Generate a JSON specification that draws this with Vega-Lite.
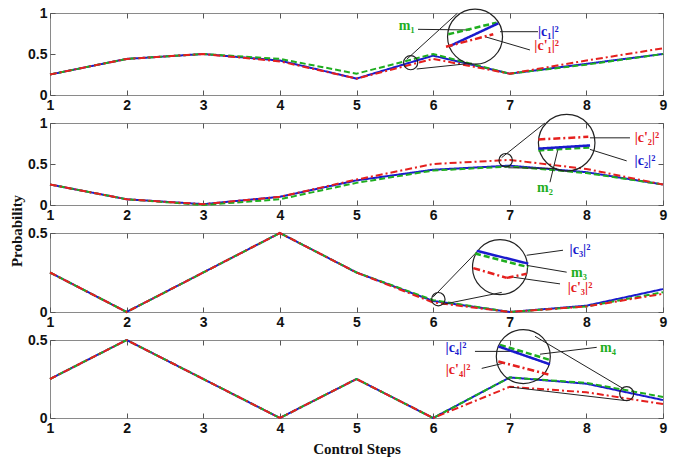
{
"$schema": "https://vega.github.io/schema/vega-lite/v6.json",
"padding": {"left": 10, "top": 5, "right": 5, "bottom": 5},
"title": {"text": "Probability", "orient": "left", "anchor": "middle", "font": "Liberation Serif", "fontSize": 15, "fontWeight": "bold", "color": "#111", "offset": 2},
"datasets": {
"lines": [
{"panel":1,"series":"c","step":1,"value":0.25},{"panel":1,"series":"c","step":2,"value":0.44},{"panel":1,"series":"c","step":3,"value":0.5},{"panel":1,"series":"c","step":4,"value":0.42},{"panel":1,"series":"c","step":5,"value":0.2},{"panel":1,"series":"c","step":6,"value":0.48},{"panel":1,"series":"c","step":7,"value":0.26},{"panel":1,"series":"c","step":8,"value":0.38},{"panel":1,"series":"c","step":9,"value":0.5},
{"panel":1,"series":"m","step":1,"value":0.25},{"panel":1,"series":"m","step":2,"value":0.44},{"panel":1,"series":"m","step":3,"value":0.5},{"panel":1,"series":"m","step":4,"value":0.44},{"panel":1,"series":"m","step":5,"value":0.26},{"panel":1,"series":"m","step":6,"value":0.5},{"panel":1,"series":"m","step":7,"value":0.26},{"panel":1,"series":"m","step":8,"value":0.37},{"panel":1,"series":"m","step":9,"value":0.5},
{"panel":1,"series":"cp","step":1,"value":0.25},{"panel":1,"series":"cp","step":2,"value":0.44},{"panel":1,"series":"cp","step":3,"value":0.5},{"panel":1,"series":"cp","step":4,"value":0.41},{"panel":1,"series":"cp","step":5,"value":0.2},{"panel":1,"series":"cp","step":6,"value":0.44},{"panel":1,"series":"cp","step":7,"value":0.26},{"panel":1,"series":"cp","step":8,"value":0.42},{"panel":1,"series":"cp","step":9,"value":0.57},
{"panel":2,"series":"c","step":1,"value":0.25},{"panel":2,"series":"c","step":2,"value":0.07},{"panel":2,"series":"c","step":3,"value":0.01},{"panel":2,"series":"c","step":4,"value":0.1},{"panel":2,"series":"c","step":5,"value":0.3},{"panel":2,"series":"c","step":6,"value":0.43},{"panel":2,"series":"c","step":7,"value":0.48},{"panel":2,"series":"c","step":8,"value":0.4},{"panel":2,"series":"c","step":9,"value":0.25},
{"panel":2,"series":"m","step":1,"value":0.25},{"panel":2,"series":"m","step":2,"value":0.07},{"panel":2,"series":"m","step":3,"value":0.0},{"panel":2,"series":"m","step":4,"value":0.07},{"panel":2,"series":"m","step":5,"value":0.27},{"panel":2,"series":"m","step":6,"value":0.42},{"panel":2,"series":"m","step":7,"value":0.47},{"panel":2,"series":"m","step":8,"value":0.39},{"panel":2,"series":"m","step":9,"value":0.25},
{"panel":2,"series":"cp","step":1,"value":0.25},{"panel":2,"series":"cp","step":2,"value":0.07},{"panel":2,"series":"cp","step":3,"value":0.01},{"panel":2,"series":"cp","step":4,"value":0.1},{"panel":2,"series":"cp","step":5,"value":0.31},{"panel":2,"series":"cp","step":6,"value":0.5},{"panel":2,"series":"cp","step":7,"value":0.55},{"panel":2,"series":"cp","step":8,"value":0.44},{"panel":2,"series":"cp","step":9,"value":0.25},
{"panel":3,"series":"c","step":1,"value":0.25},{"panel":3,"series":"c","step":2,"value":0.0},{"panel":3,"series":"c","step":3,"value":0.25},{"panel":3,"series":"c","step":4,"value":0.5},{"panel":3,"series":"c","step":5,"value":0.25},{"panel":3,"series":"c","step":6,"value":0.07},{"panel":3,"series":"c","step":7,"value":0.0},{"panel":3,"series":"c","step":8,"value":0.04},{"panel":3,"series":"c","step":9,"value":0.145},
{"panel":3,"series":"m","step":1,"value":0.25},{"panel":3,"series":"m","step":2,"value":0.0},{"panel":3,"series":"m","step":3,"value":0.25},{"panel":3,"series":"m","step":4,"value":0.5},{"panel":3,"series":"m","step":5,"value":0.25},{"panel":3,"series":"m","step":6,"value":0.075},{"panel":3,"series":"m","step":7,"value":0.0},{"panel":3,"series":"m","step":8,"value":0.035},{"panel":3,"series":"m","step":9,"value":0.125},
{"panel":3,"series":"cp","step":1,"value":0.25},{"panel":3,"series":"cp","step":2,"value":0.0},{"panel":3,"series":"cp","step":3,"value":0.25},{"panel":3,"series":"cp","step":4,"value":0.5},{"panel":3,"series":"cp","step":5,"value":0.25},{"panel":3,"series":"cp","step":6,"value":0.06},{"panel":3,"series":"cp","step":7,"value":0.0},{"panel":3,"series":"cp","step":8,"value":0.035},{"panel":3,"series":"cp","step":9,"value":0.115},
{"panel":4,"series":"c","step":1,"value":0.25},{"panel":4,"series":"c","step":2,"value":0.5},{"panel":4,"series":"c","step":3,"value":0.25},{"panel":4,"series":"c","step":4,"value":0.0},{"panel":4,"series":"c","step":5,"value":0.25},{"panel":4,"series":"c","step":6,"value":0.0},{"panel":4,"series":"c","step":7,"value":0.26},{"panel":4,"series":"c","step":8,"value":0.22},{"panel":4,"series":"c","step":9,"value":0.115},
{"panel":4,"series":"m","step":1,"value":0.25},{"panel":4,"series":"m","step":2,"value":0.5},{"panel":4,"series":"m","step":3,"value":0.25},{"panel":4,"series":"m","step":4,"value":0.0},{"panel":4,"series":"m","step":5,"value":0.25},{"panel":4,"series":"m","step":6,"value":0.0},{"panel":4,"series":"m","step":7,"value":0.26},{"panel":4,"series":"m","step":8,"value":0.225},{"panel":4,"series":"m","step":9,"value":0.135},
{"panel":4,"series":"cp","step":1,"value":0.25},{"panel":4,"series":"cp","step":2,"value":0.5},{"panel":4,"series":"cp","step":3,"value":0.25},{"panel":4,"series":"cp","step":4,"value":0.0},{"panel":4,"series":"cp","step":5,"value":0.25},{"panel":4,"series":"cp","step":6,"value":0.0},{"panel":4,"series":"cp","step":7,"value":0.2},{"panel":4,"series":"cp","step":8,"value":0.165},{"panel":4,"series":"cp","step":9,"value":0.09}
],
"conn": [
{"panel":1,"x":5.655,"y":0.435,"x2":6.315,"y2":0.996},
{"panel":1,"x":5.786,"y":0.317,"x2":6.504,"y2":0.387},
{"panel":1,"x":5.803,"y":0.801,"x2":6.481,"y2":0.793},
{"panel":1,"x":6.873,"y":0.772,"x2":7.369,"y2":0.772},
{"panel":1,"x":6.677,"y":0.711,"x2":7.264,"y2":0.549},
{"panel":2,"x":6.894,"y":0.578,"x2":7.46,"y2":1.0},
{"panel":2,"x":6.981,"y":0.454,"x2":7.613,"y2":0.446},
{"panel":2,"x":8.047,"y":0.819,"x2":8.569,"y2":0.819},
{"panel":2,"x":8.047,"y":0.678,"x2":8.526,"y2":0.538},
{"panel":2,"x":7.634,"y":0.699,"x2":7.525,"y2":0.277},
{"panel":3,"x":6.002,"y":0.096,"x2":6.569,"y2":0.38},
{"panel":3,"x":6.133,"y":0.049,"x2":6.895,"y2":0.124},
{"panel":3,"x":7.221,"y":0.359,"x2":7.695,"y2":0.391},
{"panel":3,"x":7.221,"y":0.295,"x2":7.743,"y2":0.252},
{"panel":3,"x":7.047,"y":0.22,"x2":7.656,"y2":0.178},
{"panel":4,"x":7.33,"y":0.524,"x2":8.482,"y2":0.188},
{"panel":4,"x":6.998,"y":0.199,"x2":8.504,"y2":0.112},
{"panel":4,"x":6.546,"y":0.427,"x2":7.134,"y2":0.427},
{"panel":4,"x":7.395,"y":0.409,"x2":8.135,"y2":0.453},
{"panel":4,"x":6.634,"y":0.318,"x2":6.916,"y2":0.351}
],
"circles": [
{"panel":1,"kind":"small","x":5.707,"y":0.394},{"panel":1,"kind":"big","x":6.547,"y":0.711},
{"panel":2,"kind":"small","x":6.947,"y":0.546},{"panel":2,"kind":"big","x":7.743,"y":0.759},
{"panel":3,"kind":"small","x":6.068,"y":0.081},{"panel":3,"kind":"big","x":6.873,"y":0.284},
{"panel":4,"kind":"small","x":8.526,"y":0.156},{"panel":4,"kind":"big","x":7.177,"y":0.394}
],
"mag": [
{"panel":1,"series":"m","x":6.198,"y":0.74,"x2":6.829,"y2":0.883},
{"panel":1,"series":"c","x":6.22,"y":0.598,"x2":6.851,"y2":0.874},
{"panel":1,"series":"cp","x":6.168,"y":0.589,"x2":6.785,"y2":0.74},
{"panel":2,"series":"cp","x":7.373,"y":0.799,"x2":8.025,"y2":0.831},
{"panel":2,"series":"m","x":7.373,"y":0.666,"x2":8.048,"y2":0.703},
{"panel":2,"series":"c","x":7.373,"y":0.687,"x2":8.048,"y2":0.727},
{"panel":3,"series":"c","x":6.569,"y":0.387,"x2":7.242,"y2":0.306},
{"panel":3,"series":"m","x":6.547,"y":0.37,"x2":7.242,"y2":0.284},
{"panel":3,"series":"cp","x":6.524,"y":0.278,"x2":6.96,"y2":0.216},
{"panel":3,"series":"cp","x":6.96,"y":0.216,"x2":7.221,"y2":0.242},
{"panel":4,"series":"m","x":6.873,"y":0.469,"x2":7.525,"y2":0.372},
{"panel":4,"series":"c","x":6.851,"y":0.459,"x2":7.525,"y2":0.344},
{"panel":4,"series":"cp","x":6.851,"y":0.362,"x2":7.504,"y2":0.279}
],
"labels": [
{"panel":1,"series":"m","label":"m₁","x":5.655,"y":0.841},
{"panel":1,"series":"c","label":"|c₁|²","x":7.503,"y":0.772},
{"panel":1,"series":"cp","label":"|c'₁|²","x":7.482,"y":0.598},
{"panel":2,"series":"cp","label":"|c'₂|²","x":8.791,"y":0.819},
{"panel":2,"series":"c","label":"|c₂|²","x":8.765,"y":0.542},
{"panel":2,"series":"m","label":"m₂","x":7.46,"y":0.205},
{"panel":3,"series":"c","label":"|c₃|²","x":7.917,"y":0.391},
{"panel":3,"series":"m","label":"m₃","x":7.904,"y":0.25},
{"panel":3,"series":"cp","label":"|c'₃|²","x":7.917,"y":0.154},
{"panel":4,"series":"c","label":"|c₄|²","x":6.298,"y":0.448},
{"panel":4,"series":"m","label":"m₄","x":8.282,"y":0.448},
{"panel":4,"series":"cp","label":"|c'₄|²","x":6.325,"y":0.305}
]
},
"bounds": "flush",
"spacing": 28,
"vconcat": [
{"width": 613, "height": 82,
 "resolve": {"axis": {"x": "independent", "y": "independent"}},
 "layer": [
  {"data": {"name": "lines"}, "transform": [{"filter": "datum.panel == 1"}],
   "mark": {"type": "line", "strokeWidth": 2},
   "encoding": {
    "x": {"field": "step", "type": "quantitative", "scale": {"domain": [1, 9], "nice": false, "zero": false}, "axis": {"orient": "bottom", "values": [1,2,3,4,5,6,7,8,9], "title": null}},
    "y": {"field": "value", "type": "quantitative", "scale": {"domain": [0, 1], "nice": false, "zero": false}, "axis": {"orient": "left", "values": [0, 0.5, 1], "format": "~g", "title": null}},
    "color": {"field": "series", "type": "nominal", "scale": {"domain": ["c", "m", "cp"], "range": ["#1a1acd", "#1fae1f", "#e5201e"]}, "legend": null},
    "strokeDash": {"field": "series", "type": "nominal", "scale": {"domain": ["c", "m", "cp"], "range": [[1, 0], [6, 3], [7, 3, 2, 3]]}, "legend": null}}},
  {"data": {"name": "conn"}, "transform": [{"filter": "datum.panel == 1"}],
   "mark": {"type": "rule", "color": "#222", "strokeWidth": 1},
   "encoding": {
    "x": {"field": "x", "type": "quantitative", "scale": {"domain": [1, 9], "nice": false, "zero": false}, "axis": {"orient": "top", "values": [1,2,3,4,5,6,7,8,9], "labels": false, "title": null}},
    "y": {"field": "y", "type": "quantitative", "scale": {"domain": [0, 1], "nice": false, "zero": false}, "axis": {"orient": "right", "values": [0, 0.5, 1], "labels": false, "title": null}},
    "x2": {"field": "x2"}, "y2": {"field": "y2"}}},
  {"data": {"name": "circles"}, "transform": [{"filter": "datum.panel == 1 && datum.kind == 'small'"}],
   "mark": {"type": "point", "shape": "circle", "filled": false, "stroke": "#222", "strokeWidth": 1.2, "size": 200, "opacity": 1},
   "encoding": {"x": {"field": "x", "type": "quantitative", "scale": {"domain": [1, 9], "nice": false, "zero": false}, "axis": null}, "y": {"field": "y", "type": "quantitative", "scale": {"domain": [0, 1], "nice": false, "zero": false}, "axis": null}}},
  {"data": {"name": "circles"}, "transform": [{"filter": "datum.panel == 1 && datum.kind == 'big'"}],
   "mark": {"type": "point", "shape": "circle", "filled": false, "stroke": "#222", "strokeWidth": 1.2, "size": 3025, "opacity": 1},
   "encoding": {"x": {"field": "x", "type": "quantitative", "scale": {"domain": [1, 9], "nice": false, "zero": false}, "axis": null}, "y": {"field": "y", "type": "quantitative", "scale": {"domain": [0, 1], "nice": false, "zero": false}, "axis": null}}},
  {"data": {"name": "mag"}, "transform": [{"filter": "datum.panel == 1"}],
   "mark": {"type": "rule", "strokeWidth": 2.5},
   "encoding": {
    "x": {"field": "x", "type": "quantitative", "scale": {"domain": [1, 9], "nice": false, "zero": false}, "axis": null},
    "y": {"field": "y", "type": "quantitative", "scale": {"domain": [0, 1], "nice": false, "zero": false}, "axis": null},
    "x2": {"field": "x2"}, "y2": {"field": "y2"},
    "color": {"field": "series", "type": "nominal", "scale": {"domain": ["c", "m", "cp"], "range": ["#1a1acd", "#1fae1f", "#e5201e"]}, "legend": null},
    "strokeDash": {"field": "series", "type": "nominal", "scale": {"domain": ["c", "m", "cp"], "range": [[1, 0], [6, 3], [7, 3, 2, 3]]}, "legend": null}}},
  {"data": {"name": "labels"}, "transform": [{"filter": "datum.panel == 1"}],
   "mark": {"type": "text", "font": "Liberation Serif", "fontSize": 14, "fontWeight": "bold", "align": "center", "baseline": "middle"},
   "encoding": {
    "x": {"field": "x", "type": "quantitative", "scale": {"domain": [1, 9], "nice": false, "zero": false}, "axis": null},
    "y": {"field": "y", "type": "quantitative", "scale": {"domain": [0, 1], "nice": false, "zero": false}, "axis": null},
    "text": {"field": "label"},
    "color": {"field": "series", "type": "nominal", "scale": {"domain": ["c", "m", "cp"], "range": ["#1a1acd", "#1fae1f", "#e5201e"]}, "legend": null}}}
 ]},
{"width": 613, "height": 82,
 "resolve": {"axis": {"x": "independent", "y": "independent"}},
 "layer": [
  {"data": {"name": "lines"}, "transform": [{"filter": "datum.panel == 2"}],
   "mark": {"type": "line", "strokeWidth": 2},
   "encoding": {
    "x": {"field": "step", "type": "quantitative", "scale": {"domain": [1, 9], "nice": false, "zero": false}, "axis": {"orient": "bottom", "values": [1,2,3,4,5,6,7,8,9], "title": null}},
    "y": {"field": "value", "type": "quantitative", "scale": {"domain": [0, 1], "nice": false, "zero": false}, "axis": {"orient": "left", "values": [0, 0.5, 1], "format": "~g", "title": null}},
    "color": {"field": "series", "type": "nominal", "scale": {"domain": ["c", "m", "cp"], "range": ["#1a1acd", "#1fae1f", "#e5201e"]}, "legend": null},
    "strokeDash": {"field": "series", "type": "nominal", "scale": {"domain": ["c", "m", "cp"], "range": [[1, 0], [6, 3], [7, 3, 2, 3]]}, "legend": null}}},
  {"data": {"name": "conn"}, "transform": [{"filter": "datum.panel == 2"}],
   "mark": {"type": "rule", "color": "#222", "strokeWidth": 1},
   "encoding": {
    "x": {"field": "x", "type": "quantitative", "scale": {"domain": [1, 9], "nice": false, "zero": false}, "axis": {"orient": "top", "values": [1,2,3,4,5,6,7,8,9], "labels": false, "title": null}},
    "y": {"field": "y", "type": "quantitative", "scale": {"domain": [0, 1], "nice": false, "zero": false}, "axis": {"orient": "right", "values": [0, 0.5, 1], "labels": false, "title": null}},
    "x2": {"field": "x2"}, "y2": {"field": "y2"}}},
  {"data": {"name": "circles"}, "transform": [{"filter": "datum.panel == 2 && datum.kind == 'small'"}],
   "mark": {"type": "point", "shape": "circle", "filled": false, "stroke": "#222", "strokeWidth": 1.2, "size": 180, "opacity": 1},
   "encoding": {"x": {"field": "x", "type": "quantitative", "scale": {"domain": [1, 9], "nice": false, "zero": false}, "axis": null}, "y": {"field": "y", "type": "quantitative", "scale": {"domain": [0, 1], "nice": false, "zero": false}, "axis": null}}},
  {"data": {"name": "circles"}, "transform": [{"filter": "datum.panel == 2 && datum.kind == 'big'"}],
   "mark": {"type": "point", "shape": "circle", "filled": false, "stroke": "#222", "strokeWidth": 1.2, "size": 3200, "opacity": 1},
   "encoding": {"x": {"field": "x", "type": "quantitative", "scale": {"domain": [1, 9], "nice": false, "zero": false}, "axis": null}, "y": {"field": "y", "type": "quantitative", "scale": {"domain": [0, 1], "nice": false, "zero": false}, "axis": null}}},
  {"data": {"name": "mag"}, "transform": [{"filter": "datum.panel == 2"}],
   "mark": {"type": "rule", "strokeWidth": 2.5},
   "encoding": {
    "x": {"field": "x", "type": "quantitative", "scale": {"domain": [1, 9], "nice": false, "zero": false}, "axis": null},
    "y": {"field": "y", "type": "quantitative", "scale": {"domain": [0, 1], "nice": false, "zero": false}, "axis": null},
    "x2": {"field": "x2"}, "y2": {"field": "y2"},
    "color": {"field": "series", "type": "nominal", "scale": {"domain": ["c", "m", "cp"], "range": ["#1a1acd", "#1fae1f", "#e5201e"]}, "legend": null},
    "strokeDash": {"field": "series", "type": "nominal", "scale": {"domain": ["c", "m", "cp"], "range": [[1, 0], [6, 3], [7, 3, 2, 3]]}, "legend": null}}},
  {"data": {"name": "labels"}, "transform": [{"filter": "datum.panel == 2"}],
   "mark": {"type": "text", "font": "Liberation Serif", "fontSize": 14, "fontWeight": "bold", "align": "center", "baseline": "middle"},
   "encoding": {
    "x": {"field": "x", "type": "quantitative", "scale": {"domain": [1, 9], "nice": false, "zero": false}, "axis": null},
    "y": {"field": "y", "type": "quantitative", "scale": {"domain": [0, 1], "nice": false, "zero": false}, "axis": null},
    "text": {"field": "label"},
    "color": {"field": "series", "type": "nominal", "scale": {"domain": ["c", "m", "cp"], "range": ["#1a1acd", "#1fae1f", "#e5201e"]}, "legend": null}}}
 ]},
{"width": 613, "height": 79,
 "resolve": {"axis": {"x": "independent", "y": "independent"}},
 "layer": [
  {"data": {"name": "lines"}, "transform": [{"filter": "datum.panel == 3"}],
   "mark": {"type": "line", "strokeWidth": 2},
   "encoding": {
    "x": {"field": "step", "type": "quantitative", "scale": {"domain": [1, 9], "nice": false, "zero": false}, "axis": {"orient": "bottom", "values": [1,2,3,4,5,6,7,8,9], "title": null}},
    "y": {"field": "value", "type": "quantitative", "scale": {"domain": [0, 0.5], "nice": false, "zero": false}, "axis": {"orient": "left", "values": [0, 0.5], "format": "~g", "title": null}},
    "color": {"field": "series", "type": "nominal", "scale": {"domain": ["c", "m", "cp"], "range": ["#1a1acd", "#1fae1f", "#e5201e"]}, "legend": null},
    "strokeDash": {"field": "series", "type": "nominal", "scale": {"domain": ["c", "m", "cp"], "range": [[1, 0], [6, 3], [7, 3, 2, 3]]}, "legend": null}}},
  {"data": {"name": "conn"}, "transform": [{"filter": "datum.panel == 3"}],
   "mark": {"type": "rule", "color": "#222", "strokeWidth": 1},
   "encoding": {
    "x": {"field": "x", "type": "quantitative", "scale": {"domain": [1, 9], "nice": false, "zero": false}, "axis": {"orient": "top", "values": [1,2,3,4,5,6,7,8,9], "labels": false, "title": null}},
    "y": {"field": "y", "type": "quantitative", "scale": {"domain": [0, 0.5], "nice": false, "zero": false}, "axis": {"orient": "right", "values": [0, 0.5], "labels": false, "title": null}},
    "x2": {"field": "x2"}, "y2": {"field": "y2"}}},
  {"data": {"name": "circles"}, "transform": [{"filter": "datum.panel == 3 && datum.kind == 'small'"}],
   "mark": {"type": "point", "shape": "circle", "filled": false, "stroke": "#222", "strokeWidth": 1.2, "size": 180, "opacity": 1},
   "encoding": {"x": {"field": "x", "type": "quantitative", "scale": {"domain": [1, 9], "nice": false, "zero": false}, "axis": null}, "y": {"field": "y", "type": "quantitative", "scale": {"domain": [0, 0.5], "nice": false, "zero": false}, "axis": null}}},
  {"data": {"name": "circles"}, "transform": [{"filter": "datum.panel == 3 && datum.kind == 'big'"}],
   "mark": {"type": "point", "shape": "circle", "filled": false, "stroke": "#222", "strokeWidth": 1.2, "size": 3025, "opacity": 1},
   "encoding": {"x": {"field": "x", "type": "quantitative", "scale": {"domain": [1, 9], "nice": false, "zero": false}, "axis": null}, "y": {"field": "y", "type": "quantitative", "scale": {"domain": [0, 0.5], "nice": false, "zero": false}, "axis": null}}},
  {"data": {"name": "mag"}, "transform": [{"filter": "datum.panel == 3"}],
   "mark": {"type": "rule", "strokeWidth": 2.5},
   "encoding": {
    "x": {"field": "x", "type": "quantitative", "scale": {"domain": [1, 9], "nice": false, "zero": false}, "axis": null},
    "y": {"field": "y", "type": "quantitative", "scale": {"domain": [0, 0.5], "nice": false, "zero": false}, "axis": null},
    "x2": {"field": "x2"}, "y2": {"field": "y2"},
    "color": {"field": "series", "type": "nominal", "scale": {"domain": ["c", "m", "cp"], "range": ["#1a1acd", "#1fae1f", "#e5201e"]}, "legend": null},
    "strokeDash": {"field": "series", "type": "nominal", "scale": {"domain": ["c", "m", "cp"], "range": [[1, 0], [6, 3], [7, 3, 2, 3]]}, "legend": null}}},
  {"data": {"name": "labels"}, "transform": [{"filter": "datum.panel == 3"}],
   "mark": {"type": "text", "font": "Liberation Serif", "fontSize": 14, "fontWeight": "bold", "align": "center", "baseline": "middle"},
   "encoding": {
    "x": {"field": "x", "type": "quantitative", "scale": {"domain": [1, 9], "nice": false, "zero": false}, "axis": null},
    "y": {"field": "y", "type": "quantitative", "scale": {"domain": [0, 0.5], "nice": false, "zero": false}, "axis": null},
    "text": {"field": "label"},
    "color": {"field": "series", "type": "nominal", "scale": {"domain": ["c", "m", "cp"], "range": ["#1a1acd", "#1fae1f", "#e5201e"]}, "legend": null}}}
 ]},
{"width": 613, "height": 78,
 "resolve": {"axis": {"x": "independent", "y": "independent"}},
 "layer": [
  {"data": {"name": "lines"}, "transform": [{"filter": "datum.panel == 4"}],
   "mark": {"type": "line", "strokeWidth": 2},
   "encoding": {
    "x": {"field": "step", "type": "quantitative", "scale": {"domain": [1, 9], "nice": false, "zero": false}, "axis": {"orient": "bottom", "values": [1,2,3,4,5,6,7,8,9], "title": "Control Steps", "titlePadding": 6}},
    "y": {"field": "value", "type": "quantitative", "scale": {"domain": [0, 0.5], "nice": false, "zero": false}, "axis": {"orient": "left", "values": [0, 0.5], "format": "~g", "title": null}},
    "color": {"field": "series", "type": "nominal", "scale": {"domain": ["c", "m", "cp"], "range": ["#1a1acd", "#1fae1f", "#e5201e"]}, "legend": null},
    "strokeDash": {"field": "series", "type": "nominal", "scale": {"domain": ["c", "m", "cp"], "range": [[1, 0], [6, 3], [7, 3, 2, 3]]}, "legend": null}}},
  {"data": {"name": "conn"}, "transform": [{"filter": "datum.panel == 4"}],
   "mark": {"type": "rule", "color": "#222", "strokeWidth": 1},
   "encoding": {
    "x": {"field": "x", "type": "quantitative", "scale": {"domain": [1, 9], "nice": false, "zero": false}, "axis": {"orient": "top", "values": [1,2,3,4,5,6,7,8,9], "labels": false, "title": null}},
    "y": {"field": "y", "type": "quantitative", "scale": {"domain": [0, 0.5], "nice": false, "zero": false}, "axis": {"orient": "right", "values": [0, 0.5], "labels": false, "title": null}},
    "x2": {"field": "x2"}, "y2": {"field": "y2"}}},
  {"data": {"name": "circles"}, "transform": [{"filter": "datum.panel == 4 && datum.kind == 'small'"}],
   "mark": {"type": "point", "shape": "circle", "filled": false, "stroke": "#222", "strokeWidth": 1.2, "size": 196, "opacity": 1},
   "encoding": {"x": {"field": "x", "type": "quantitative", "scale": {"domain": [1, 9], "nice": false, "zero": false}, "axis": null}, "y": {"field": "y", "type": "quantitative", "scale": {"domain": [0, 0.5], "nice": false, "zero": false}, "axis": null}}},
  {"data": {"name": "circles"}, "transform": [{"filter": "datum.panel == 4 && datum.kind == 'big'"}],
   "mark": {"type": "point", "shape": "circle", "filled": false, "stroke": "#222", "strokeWidth": 1.2, "size": 2916, "opacity": 1},
   "encoding": {"x": {"field": "x", "type": "quantitative", "scale": {"domain": [1, 9], "nice": false, "zero": false}, "axis": null}, "y": {"field": "y", "type": "quantitative", "scale": {"domain": [0, 0.5], "nice": false, "zero": false}, "axis": null}}},
  {"data": {"name": "mag"}, "transform": [{"filter": "datum.panel == 4"}],
   "mark": {"type": "rule", "strokeWidth": 2.5},
   "encoding": {
    "x": {"field": "x", "type": "quantitative", "scale": {"domain": [1, 9], "nice": false, "zero": false}, "axis": null},
    "y": {"field": "y", "type": "quantitative", "scale": {"domain": [0, 0.5], "nice": false, "zero": false}, "axis": null},
    "x2": {"field": "x2"}, "y2": {"field": "y2"},
    "color": {"field": "series", "type": "nominal", "scale": {"domain": ["c", "m", "cp"], "range": ["#1a1acd", "#1fae1f", "#e5201e"]}, "legend": null},
    "strokeDash": {"field": "series", "type": "nominal", "scale": {"domain": ["c", "m", "cp"], "range": [[1, 0], [6, 3], [7, 3, 2, 3]]}, "legend": null}}},
  {"data": {"name": "labels"}, "transform": [{"filter": "datum.panel == 4"}],
   "mark": {"type": "text", "font": "Liberation Serif", "fontSize": 14, "fontWeight": "bold", "align": "center", "baseline": "middle"},
   "encoding": {
    "x": {"field": "x", "type": "quantitative", "scale": {"domain": [1, 9], "nice": false, "zero": false}, "axis": null},
    "y": {"field": "y", "type": "quantitative", "scale": {"domain": [0, 0.5], "nice": false, "zero": false}, "axis": null},
    "text": {"field": "label"},
    "color": {"field": "series", "type": "nominal", "scale": {"domain": ["c", "m", "cp"], "range": ["#1a1acd", "#1fae1f", "#e5201e"]}, "legend": null}}}
 ]}
],
"config": {
 "view": {"stroke": "#8a8a8a", "strokeWidth": 1},
 "axis": {"domain": false, "grid": false, "ticks": true, "tickColor": "#555", "tickSize": -5, "labelPadding": 8, "labelFont": "Liberation Sans", "labelFontSize": 14, "labelFontWeight": "bold", "labelColor": "#111", "labelFlush": false, "titleFont": "Liberation Serif", "titleFontSize": 15, "titleFontWeight": "bold", "titleColor": "#111"}
}
}
